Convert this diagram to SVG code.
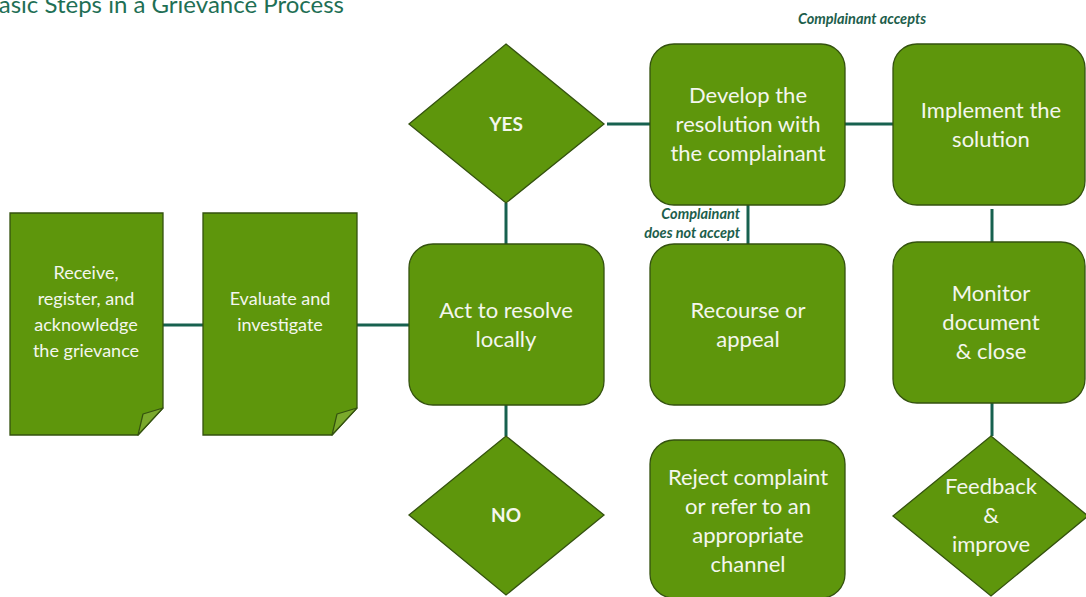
<svg xmlns="http://www.w3.org/2000/svg" width="1086" height="597" viewBox="0 0 1086 597">
  <style>
    .shape { fill: #5e960c; stroke: #34520f; stroke-width: 1.3; }
    .fold { fill: #7aa92c; stroke: #34520f; stroke-width: 1.2; stroke-linejoin: round; }
    .lbl { font-family: Lato, "Open Sans", "Liberation Sans", sans-serif; fill: #f4f6ee; text-anchor: middle; }
    .big { font-size: 22px; }
    .doc { font-size: 18px; }
    .dec { font-size: 19px; font-weight: bold; }
    .note { font-family: Lato, "Open Sans", "Liberation Sans", sans-serif; font-size: 14.5px; font-weight: bold; font-style: italic; fill: #1d5e4b; }
    .wire { stroke: #17614f; stroke-width: 3; fill: none; }
    .title { font-family: Lato, "Open Sans", "Liberation Sans", sans-serif; font-size: 24px; fill: #1f6f55; text-anchor: end; }
  </style>

  <rect width="1086" height="597" fill="#ffffff"/>

  <text class="title" x="344" y="13">Basic Steps in a Grievance Process</text>

  <!-- connectors -->
  <g id="connectors">
    <line class="wire" x1="163" y1="325" x2="203" y2="325"/>
    <line class="wire" x1="357" y1="325" x2="409" y2="325"/>
    <line class="wire" x1="506" y1="203" x2="506" y2="244"/>
    <line class="wire" x1="506" y1="405" x2="506" y2="436"/>
    <line class="wire" x1="607" y1="124" x2="650" y2="124"/>
    <line class="wire" x1="845" y1="124" x2="893" y2="124"/>
    <line class="wire" x1="748" y1="205" x2="748" y2="244"/>
    <line class="wire" x1="992" y1="209" x2="992" y2="242"/>
    <line class="wire" x1="992" y1="403" x2="992" y2="436"/>
  </g>

  <!-- connector labels -->
  <g id="labels">
    <text class="note" x="862" y="24" text-anchor="middle">Complainant accepts</text>
    <text class="note" x="740" y="219" text-anchor="end">Complainant</text>
    <text class="note" x="740" y="238" text-anchor="end">does not accept</text>
  </g>

  <g id="receive">
    <path class="shape" d="M10,213 H163 V408 L138,435 H10 Z"/>
    <path class="fold" d="M138,435 L143,414 L163,408 Z"/>
    <text class="lbl doc" x="86" y="279">Receive,</text>
    <text class="lbl doc" x="86" y="305">register, and</text>
    <text class="lbl doc" x="86" y="331">acknowledge</text>
    <text class="lbl doc" x="86" y="357">the grievance</text>
  </g>

  <g id="evaluate">
    <path class="shape" d="M203,213 H357 V408 L332,435 H203 Z"/>
    <path class="fold" d="M332,435 L337,414 L357,408 Z"/>
    <text class="lbl doc" x="280" y="305">Evaluate and</text>
    <text class="lbl doc" x="280" y="331">investigate</text>
  </g>

  <g id="act">
    <rect class="shape" x="409" y="244" width="195" height="161" rx="24"/>
    <text class="lbl big" x="506" y="318">Act to resolve</text>
    <text class="lbl big" x="506" y="347">locally</text>
  </g>

  <g id="yes">
    <polygon class="shape" points="506,44 604,124 506,203 409,124"/>
    <text class="lbl dec" x="506" y="131">YES</text>
  </g>

  <g id="no">
    <polygon class="shape" points="506,436 604,515 506,595 409,515"/>
    <text class="lbl dec" x="506" y="522">NO</text>
  </g>

  <g id="develop">
    <rect class="shape" x="650" y="44" width="195" height="161" rx="24"/>
    <text class="lbl big" x="748" y="103">Develop the</text>
    <text class="lbl big" x="748" y="132">resolution with</text>
    <text class="lbl big" x="748" y="161">the complainant</text>
  </g>

  <g id="recourse">
    <rect class="shape" x="650" y="244" width="195" height="161" rx="24"/>
    <text class="lbl big" x="748" y="318">Recourse or</text>
    <text class="lbl big" x="748" y="347">appeal</text>
  </g>

  <g id="reject">
    <rect class="shape" x="650" y="440" width="195" height="158" rx="24"/>
    <text class="lbl big" x="748" y="485">Reject complaint</text>
    <text class="lbl big" x="748" y="514">or refer to an</text>
    <text class="lbl big" x="748" y="543">appropriate</text>
    <text class="lbl big" x="748" y="572">channel</text>
  </g>

  <g id="implement">
    <rect class="shape" x="893" y="44" width="192" height="161" rx="24"/>
    <text class="lbl big" x="991" y="118">Implement the</text>
    <text class="lbl big" x="991" y="147">solution</text>
  </g>

  <g id="monitor">
    <rect class="shape" x="893" y="242" width="192" height="161" rx="24"/>
    <text class="lbl big" x="991" y="301">Monitor</text>
    <text class="lbl big" x="991" y="330">document</text>
    <text class="lbl big" x="991" y="359">&amp; close</text>
  </g>

  <g id="feedback">
    <polygon class="shape" points="991,436 1088,516 991,596 893,516"/>
    <text class="lbl big" x="991" y="494">Feedback</text>
    <text class="lbl big" x="991" y="523">&amp;</text>
    <text class="lbl big" x="991" y="552">improve</text>
  </g>
</svg>
